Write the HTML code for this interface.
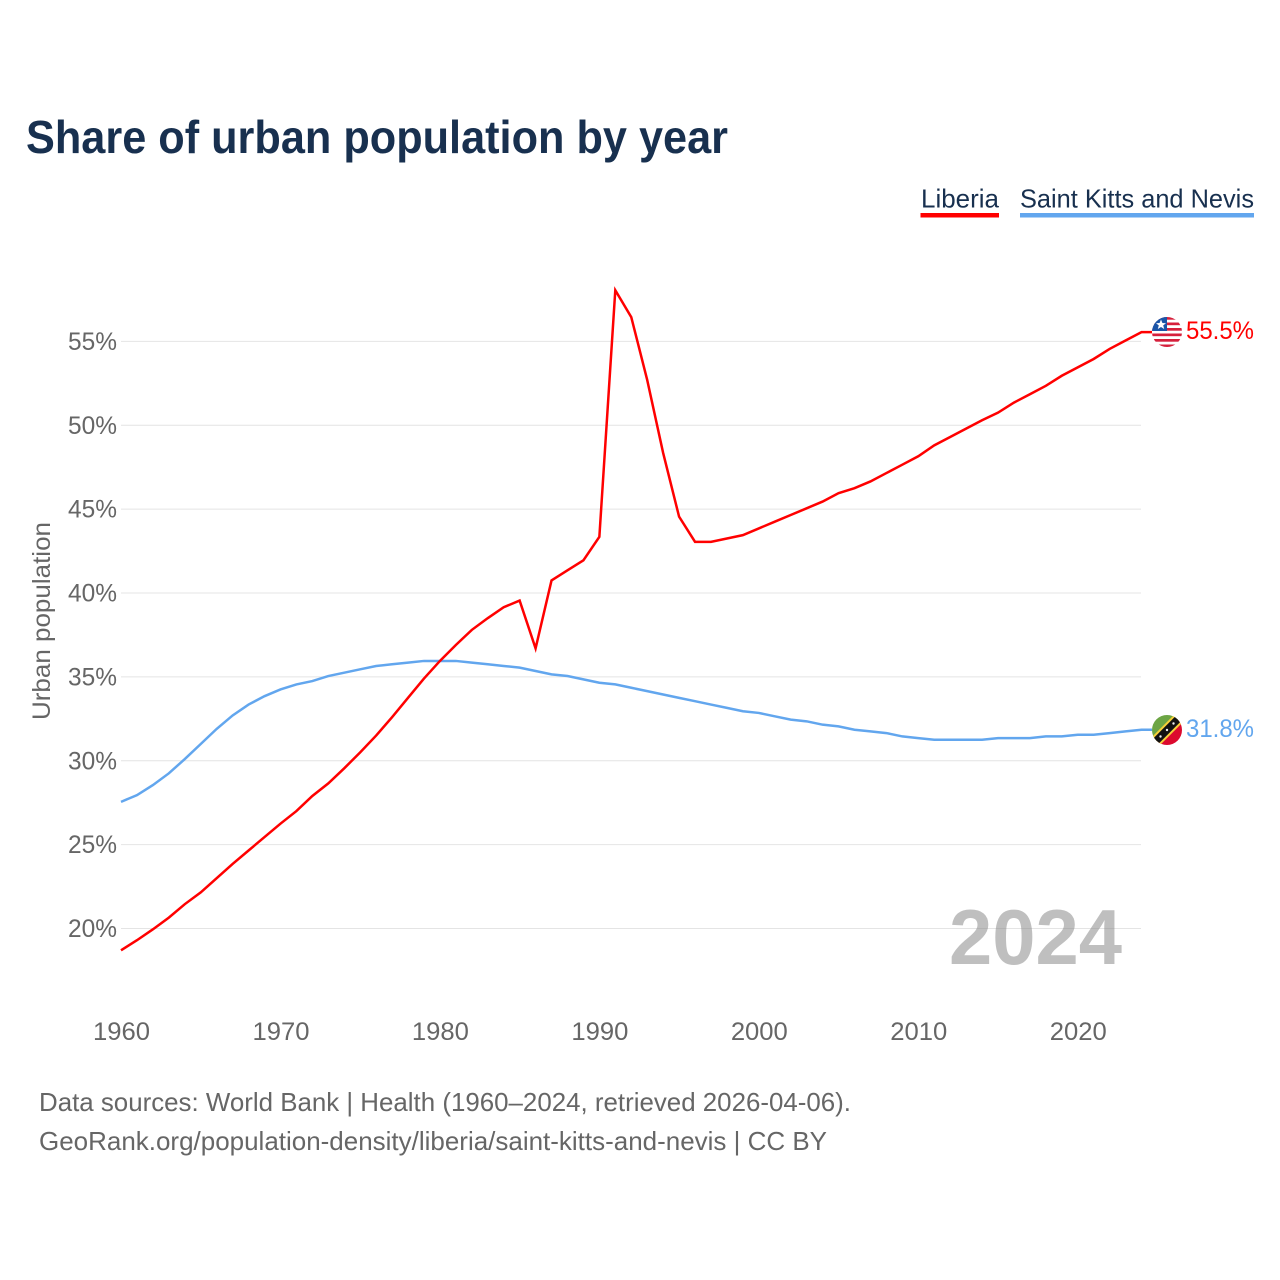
<!DOCTYPE html>
<html lang="en">
<head>
<meta charset="utf-8">
<title>Share of urban population by year</title>
<style>
html,body{margin:0;padding:0;background:#fff;width:1280px;height:1280px;overflow:hidden}
svg{display:block}
text{font-family:"Liberation Sans",sans-serif}
</style>
</head>
<body>
<svg id="chart" width="1280" height="1280" viewBox="0 0 1280 1280" xmlns="http://www.w3.org/2000/svg">
  <defs>
    <clipPath id="flag-clip-lr"><circle cx="1167" cy="332" r="15"/></clipPath>
    <clipPath id="flag-clip-kn"><circle cx="1167" cy="730" r="15"/></clipPath>
  </defs>
  <rect width="1280" height="1280" fill="#fff"/>
  <text x="26" y="153" font-size="46" font-weight="700" fill="#18304f" textLength="702" lengthAdjust="spacingAndGlyphs">Share of urban population by year</text>

  <g>
    <text x="921" y="207.5" font-size="26" fill="#18304f" textLength="78" lengthAdjust="spacingAndGlyphs">Liberia</text>
    <rect x="920.5" y="213" width="78.5" height="4.5" fill="#ff0000"/>
  </g>
  <g>
    <text x="1020" y="207.5" font-size="26" fill="#18304f" textLength="234" lengthAdjust="spacingAndGlyphs">Saint Kitts and Nevis</text>
    <rect x="1020" y="213" width="234" height="4.5" fill="#62a6ee"/>
  </g>

  <g id="grid"></g>
  <g id="yticks"></g>
  <g id="xticks"></g>
  <text transform="translate(50,720) rotate(-90)" font-size="25" fill="#666" textLength="198" lengthAdjust="spacingAndGlyphs">Urban population</text>

  <text x="949" y="964" font-size="78" font-weight="700" fill="#808080" fill-opacity="0.5" textLength="173" lengthAdjust="spacingAndGlyphs">2024</text>

  <g id="series"></g>

  <g clip-path="url(#flag-clip-lr)">
    <rect x="1152" y="317" width="30" height="30" fill="#fff"/>
    <rect x="1152" y="317" width="30" height="2.7" fill="#d6203c"/>
    <rect x="1152" y="322.5" width="30" height="2.7" fill="#d6203c"/>
    <rect x="1152" y="328" width="30" height="2.7" fill="#d6203c"/>
    <rect x="1152" y="333.5" width="30" height="2.7" fill="#d6203c"/>
    <rect x="1152" y="339" width="30" height="2.7" fill="#d6203c"/>
    <rect x="1152" y="344.5" width="30" height="2.7" fill="#d6203c"/>
    <rect x="1152" y="317" width="15" height="14" fill="#1a55a8"/>
    <polygon points="1161,319.5 1162.4,323 1166,323.2 1163.2,325.4 1164.2,329 1161,327 1157.8,329 1158.8,325.4 1156,323.2 1159.6,323" fill="#fff"/>
  </g>
  <g clip-path="url(#flag-clip-kn)">
    <polygon points="1152,715 1182,715 1152,745" fill="#6ca544"/>
    <polygon points="1182,715 1182,745 1152,745" fill="#dc0a2e"/>
    <line x1="1150" y1="747" x2="1184" y2="713" stroke="#f5cf3a" stroke-width="11.5"/>
    <line x1="1150" y1="747" x2="1184" y2="713" stroke="#111" stroke-width="7.5"/>
    <circle cx="1160.5" cy="736.5" r="1.2" fill="#eee"/>
    <circle cx="1167" cy="730" r="1.2" fill="#eee"/>
    <circle cx="1173.5" cy="723.5" r="1.2" fill="#eee"/>
  </g>

  <text x="1186" y="339" font-size="25" fill="#ff0000" textLength="68" lengthAdjust="spacingAndGlyphs">55.5%</text>
  <text x="1186" y="737" font-size="25" fill="#62a6ee" textLength="68" lengthAdjust="spacingAndGlyphs">31.8%</text>

  <text x="39" y="1111" font-size="26" fill="#666" textLength="812" lengthAdjust="spacingAndGlyphs">Data sources: World Bank | Health (1960–2024, retrieved 2026-04-06).</text>
  <text x="39" y="1150" font-size="26" fill="#666" textLength="788" lengthAdjust="spacingAndGlyphs">GeoRank.org/population-density/liberia/saint-kitts-and-nevis | CC BY</text>
</svg>
<script>
const years = [1960,1961,1962,1963,1964,1965,1966,1967,1968,1969,1970,1971,1972,1973,1974,1975,1976,1977,1978,1979,1980,1981,1982,1983,1984,1985,1986,1987,1988,1989,1990,1991,1992,1993,1994,1995,1996,1997,1998,1999,2000,2001,2002,2003,2004,2005,2006,2007,2008,2009,2010,2011,2012,2013,2014,2015,2016,2017,2018,2019,2020,2021,2022,2023,2024];
const liberia = [18.7,19.3,19.95,20.65,21.45,22.15,23.0,23.85,24.65,25.45,26.25,27.0,27.9,28.65,29.55,30.5,31.5,32.6,33.75,34.9,35.95,36.9,37.8,38.5,39.15,39.55,36.7,40.75,41.35,41.95,43.35,58.05,56.45,52.7,48.35,44.55,43.05,43.05,43.25,43.45,43.85,44.25,44.65,45.05,45.45,45.95,46.25,46.65,47.15,47.65,48.15,48.8,49.3,49.8,50.3,50.75,51.35,51.85,52.35,52.95,53.45,53.95,54.55,55.05,55.55];
const kitts = [27.55,27.95,28.55,29.25,30.1,31.0,31.9,32.7,33.35,33.85,34.25,34.55,34.75,35.05,35.25,35.45,35.65,35.75,35.85,35.95,35.95,35.95,35.85,35.75,35.65,35.55,35.35,35.15,35.05,34.85,34.65,34.55,34.35,34.15,33.95,33.75,33.55,33.35,33.15,32.95,32.85,32.65,32.45,32.35,32.15,32.05,31.85,31.75,31.65,31.45,31.35,31.25,31.25,31.25,31.25,31.35,31.35,31.35,31.45,31.45,31.55,31.55,31.65,31.75,31.85];
const yTickValues = [20,25,30,35,40,45,50,55];
const yTickLabels = ['20%','25%','30%','35%','40%','45%','50%','55%'];
const xTickValues = [1960,1970,1980,1990,2000,2010,2020];
const xTickLabels = ['1960','1970','1980','1990','2000','2010','2020'];

const NS = 'http://www.w3.org/2000/svg';
function xScale(year){ return 121 + (year - 1960) * (1141.5 - 121) / 64; }
function yScale(v){ return 928.5 - (v - 20) * 16.775; }

const gridGroup = document.getElementById('grid');
const yGroup = document.getElementById('yticks');
const xGroup = document.getElementById('xticks');
const seriesGroup = document.getElementById('series');

yTickValues.forEach(function(v, i){
  const line = document.createElementNS(NS, 'line');
  
  
  line.setAttribute('x1', 121);
  line.setAttribute('x2', 1141);
  line.setAttribute('y1', yScale(v));
  line.setAttribute('y2', yScale(v));
  line.setAttribute('stroke', '#e4e4e4');
  line.setAttribute('stroke-width', '1.1');
  gridGroup.appendChild(line);

  const t = document.createElementNS(NS, 'text');
  
  
  t.setAttribute('x', 117);
  t.setAttribute('y', yScale(v) + 8.5);
  t.setAttribute('text-anchor', 'end');
  t.setAttribute('font-size', '25');
  t.setAttribute('fill', '#666');
  t.setAttribute('textLength', '49');
  t.setAttribute('lengthAdjust', 'spacingAndGlyphs');
  t.textContent = yTickLabels[i];
  yGroup.appendChild(t);
});

xTickValues.forEach(function(year, i){
  const t = document.createElementNS(NS, 'text');
  
  
  t.setAttribute('x', xScale(year) + 0.5);
  t.setAttribute('y', 1040);
  t.setAttribute('text-anchor', 'middle');
  t.setAttribute('font-size', '25');
  t.setAttribute('fill', '#666');
  t.setAttribute('textLength', '57');
  t.setAttribute('lengthAdjust', 'spacingAndGlyphs');
  t.textContent = xTickLabels[i];
  xGroup.appendChild(t);
});

function linePoints(values){
  const pts = values.map(function(v, i){ return xScale(years[i]).toFixed(2) + ',' + yScale(v).toFixed(2); });
  pts.push('1152,' + yScale(values[values.length - 1]).toFixed(2));
  return pts.join(' ');
}

const kittsLine = document.createElementNS(NS, 'polyline');


kittsLine.setAttribute('points', linePoints(kitts));
kittsLine.setAttribute('fill', 'none');
kittsLine.setAttribute('stroke', '#62a6ee');
kittsLine.setAttribute('stroke-width', '2.5');
kittsLine.setAttribute('stroke-linejoin', 'miter');
seriesGroup.appendChild(kittsLine);

const liberiaLine = document.createElementNS(NS, 'polyline');


liberiaLine.setAttribute('points', linePoints(liberia));
liberiaLine.setAttribute('fill', 'none');
liberiaLine.setAttribute('stroke', '#ff0000');
liberiaLine.setAttribute('stroke-width', '2.5');
liberiaLine.setAttribute('stroke-linejoin', 'miter');
seriesGroup.appendChild(liberiaLine);
</script>
</body>
</html>
